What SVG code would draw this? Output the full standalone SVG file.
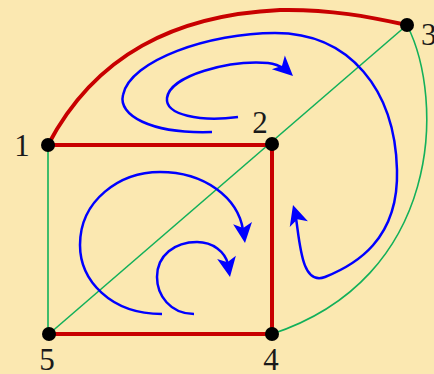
<svg xmlns="http://www.w3.org/2000/svg" width="434" height="374" viewBox="0 0 434 374">
  <defs>
    <style>
      .red { stroke: #C80000; stroke-width: 4; fill: none; stroke-linecap: round; }
      .green { stroke: #12B05A; stroke-width: 1.6; fill: none; }
      .blue { stroke: #0000FF; stroke-width: 2.5; fill: none; }
      .head { fill: #0000FF; }
      .dot { fill: #000; }
      .label { font-family: "Liberation Serif", "Times New Roman", serif; font-size: 31px; fill: #1a1a1a; }
    </style>
    <path id="arrowhead" class="head" d="M0,0 L-20,-9.5 L-15,0 L-20,9.5 Z"/>
  </defs>
  <rect x="0" y="0" width="434" height="374" fill="#FBE8B1"/>

  <g id="connectors">
    <!-- green edges -->
    <line class="green" x1="48" y1="145" x2="48" y2="334"/>
    <line class="green" x1="49" y1="334" x2="407" y2="25"/>
    <path class="green" d="M407,25 C 445,100 442,278 272,334"/>
    <!-- red edges -->
    <path class="red" d="M48,145 C 95,55 175,15 280,10 C 330,9 370,17 407,25"/>
    <line class="red" x1="48" y1="145" x2="272" y2="145"/>
    <line class="red" x1="272" y1="145" x2="272" y2="334"/>
    <line class="red" x1="49" y1="334" x2="272" y2="334"/>
    <!-- blue rotation arrows -->
    <path class="blue" d="M212,132 C 150,134 118,115 123,95 C 130,60 210,33 275,33 C 350,33 395,90 397,170 C 399,240 355,265 325,277 C 302,286 300,245 296,218"/>
    <use href="#arrowhead" transform="translate(293,205) rotate(-107)"/>
    <path class="blue" d="M238,117 C 200,122 165,115 167,98 C 170,75 230,60 268,63 C 276,64 280,66 285,69"/>
    <use href="#arrowhead" transform="translate(293,76) rotate(43)"/>
    <path class="blue" d="M162,314 C 110,314 80,280 80,245 C 80,200 120,172 160,172 C 205,172 238,198 243,230"/>
    <use href="#arrowhead" transform="translate(245,243) rotate(83)"/>
    <path class="blue" d="M194,314 C 170,314 157,295 157,277 C 157,255 175,242 197,242 C 213,242 225,252 228,264"/>
    <use href="#arrowhead" transform="translate(230,277) rotate(80)"/>
  </g>

  <g id="node1">
    <circle class="dot" cx="48" cy="145" r="7"/>
    <text class="label" x="22" y="156" text-anchor="middle">1</text>
  </g>
  <g id="node2">
    <circle class="dot" cx="272" cy="144" r="7"/>
    <text class="label" x="260" y="133" text-anchor="middle">2</text>
  </g>
  <g id="node3">
    <circle class="dot" cx="407" cy="25" r="7"/>
    <text class="label" x="421" y="45">3</text>
  </g>
  <g id="node4">
    <circle class="dot" cx="272" cy="334" r="7"/>
    <text class="label" x="271" y="370" text-anchor="middle">4</text>
  </g>
  <g id="node5">
    <circle class="dot" cx="49" cy="334" r="7"/>
    <text class="label" x="47" y="370" text-anchor="middle">5</text>
  </g>
</svg>
